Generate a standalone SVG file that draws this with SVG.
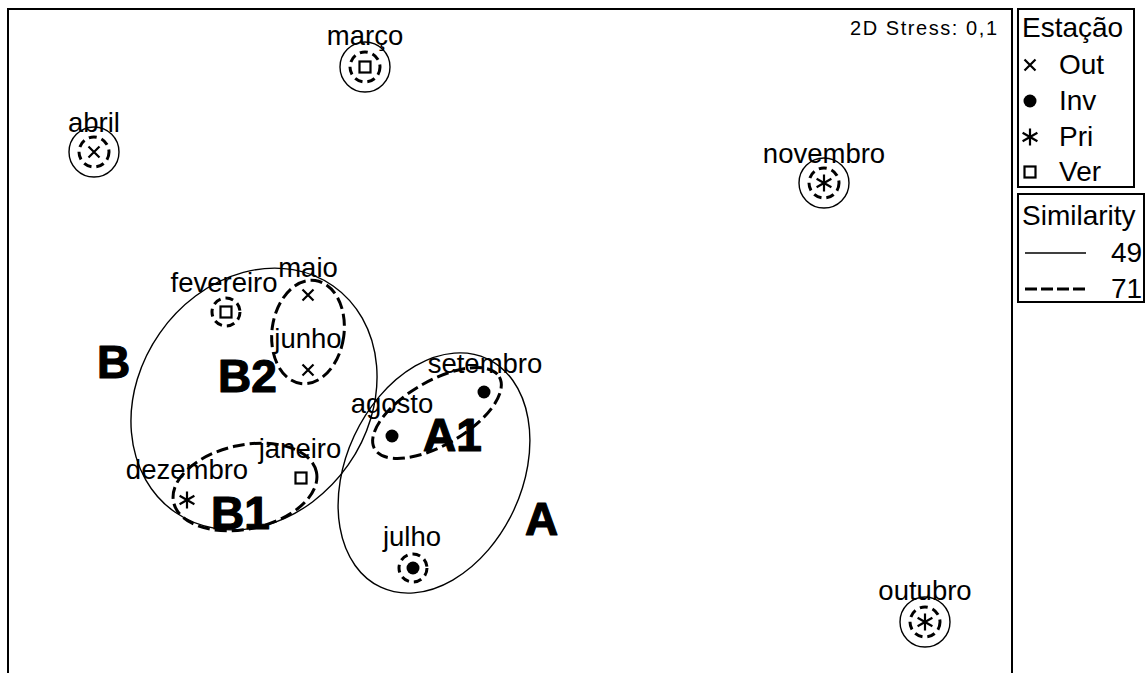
<svg xmlns="http://www.w3.org/2000/svg" width="1146" height="673" viewBox="0 0 1146 673">
<style>
.lbl{font-family:"Liberation Sans",Arial,sans-serif;font-size:27.5px;fill:#000;text-anchor:middle}
.leg{font-family:"Liberation Sans",Arial,sans-serif;font-size:28px;fill:#000}
.big{font-family:"Liberation Sans",Arial,sans-serif;font-size:46px;font-weight:bold;fill:#000;stroke:#000;stroke-width:1.2;stroke-linejoin:round}
.sol{fill:none;stroke:#000;stroke-width:1.4}
.dsh{fill:none;stroke:#000;stroke-width:3;stroke-dasharray:12 5}
.dc{fill:none;stroke:#000;stroke-width:3;stroke-dasharray:8 5}
.frame{fill:none;stroke:#000;stroke-width:2}
.mk{fill:none;stroke:#000;stroke-width:2.2}
</style>
<defs>
<g id="mx"><path d="M-5.5,-5.5 L5.5,5.5 M5.5,-5.5 L-5.5,5.5" class="mk"/></g>
<g id="md"><circle r="6.5" fill="#000"/></g>
<g id="ma"><path d="M0,-8.5 V8.5 M-7.4,-4.2 L7.4,4.2 M-7.4,4.2 L7.4,-4.2" class="mk" stroke-width="2.6"/></g>
<g id="ms"><rect x="-5.5" y="-5.5" width="11" height="11" class="mk"/></g>
</defs>

<path class="frame" d="M8,673 V9 H1012 V673"/>
<text x="850" y="35" font-family="Liberation Sans, Arial, sans-serif" font-size="20" textLength="147">2D Stress: 0,1</text>

<g id="legend-estacao">
<rect class="frame" x="1018" y="9" width="116" height="178"/>
<text class="leg" x="1022" y="37">Estação</text>
<use href="#mx" x="1030" y="65"/><text class="leg" x="1059" y="74">Out</text>
<use href="#md" x="1030" y="101"/><text class="leg" x="1059" y="110">Inv</text>
<use href="#ma" x="1030" y="137"/><text class="leg" x="1059" y="146">Pri</text>
<use href="#ms" x="1030" y="172"/><text class="leg" x="1059" y="181">Ver</text>
</g>
<g id="legend-similarity">
<rect class="frame" x="1018" y="194" width="126" height="108"/>
<text class="leg" x="1022" y="225">Similarity</text>
<line x1="1025" y1="253" x2="1086" y2="253" stroke="#000" stroke-width="1.4"/>
<text class="leg" x="1111" y="262">49</text>
<line x1="1025" y1="289" x2="1086" y2="289" stroke="#000" stroke-width="3" stroke-dasharray="12 4"/>
<text class="leg" x="1111" y="298">71</text>
</g>

<g id="connectors">
<ellipse id="clusterB" class="sol" cx="254" cy="399" rx="138" ry="115" transform="rotate(-55 254 399)"/>
<ellipse id="clusterA" class="sol" cx="434" cy="473" rx="126" ry="88" transform="rotate(-65 434 473)"/>
<ellipse id="clusterB2" class="dsh" cx="308" cy="332" rx="36" ry="52" transform="rotate(8 308 332)"/>
<ellipse id="clusterB1" class="dsh" cx="245" cy="487" rx="73" ry="42" transform="rotate(-12 245 487)"/>
<ellipse id="clusterA1" class="dsh" cx="437" cy="413" rx="72" ry="32" transform="rotate(-30 437 413)"/>
</g>

<g id="marco"><circle class="sol" cx="365" cy="67" r="25"/><circle class="dc" cx="365" cy="67" r="15"/><use href="#ms" x="365" y="67"/><text class="lbl" x="365" y="45">março</text></g>
<g id="abril"><circle class="sol" cx="94" cy="152" r="25"/><circle class="dc" cx="94" cy="152" r="15"/><use href="#mx" x="94" y="152"/><text class="lbl" x="94" y="132">abril</text></g>
<g id="novembro"><circle class="sol" cx="824" cy="183" r="25"/><circle class="dc" cx="824" cy="183" r="15"/><use href="#ma" x="824" y="183"/><text class="lbl" x="824" y="163">novembro</text></g>
<g id="outubro"><circle class="sol" cx="925" cy="622" r="25"/><circle class="dc" cx="925" cy="622" r="15"/><use href="#ma" x="925" y="622"/><text class="lbl" x="925" y="600">outubro</text></g>
<g id="fevereiro"><circle class="dc" cx="226" cy="312" r="14"/><use href="#ms" x="226" y="312"/><text class="lbl" x="224" y="292">fevereiro</text></g>
<g id="maio"><use href="#mx" x="308" y="295"/><text class="lbl" x="308" y="277">maio</text></g>
<g id="junho"><use href="#mx" x="308" y="370"/><text class="lbl" x="308" y="348">junho</text></g>
<g id="janeiro"><use href="#ms" x="301" y="478"/><text class="lbl" x="300" y="458">janeiro</text></g>
<g id="dezembro"><use href="#ma" x="187" y="500"/><text class="lbl" x="187" y="479">dezembro</text></g>
<g id="setembro"><use href="#md" x="484" y="392"/><text class="lbl" x="485" y="373">setembro</text></g>
<g id="agosto"><use href="#md" x="392" y="436"/><text class="lbl" x="392" y="413">agosto</text></g>
<g id="julho"><circle class="dc" cx="413" cy="568" r="14"/><use href="#md" x="413" y="568"/><text class="lbl" x="412" y="546">julho</text></g>

<g id="labels">
<text class="big" x="97" y="378">B</text>
<text class="big" x="218" y="392">B2</text>
<text class="big" x="211" y="529">B1</text>
<text class="big" x="423" y="451">A1</text>
<text class="big" x="525" y="535">A</text>
</g>
</svg>
